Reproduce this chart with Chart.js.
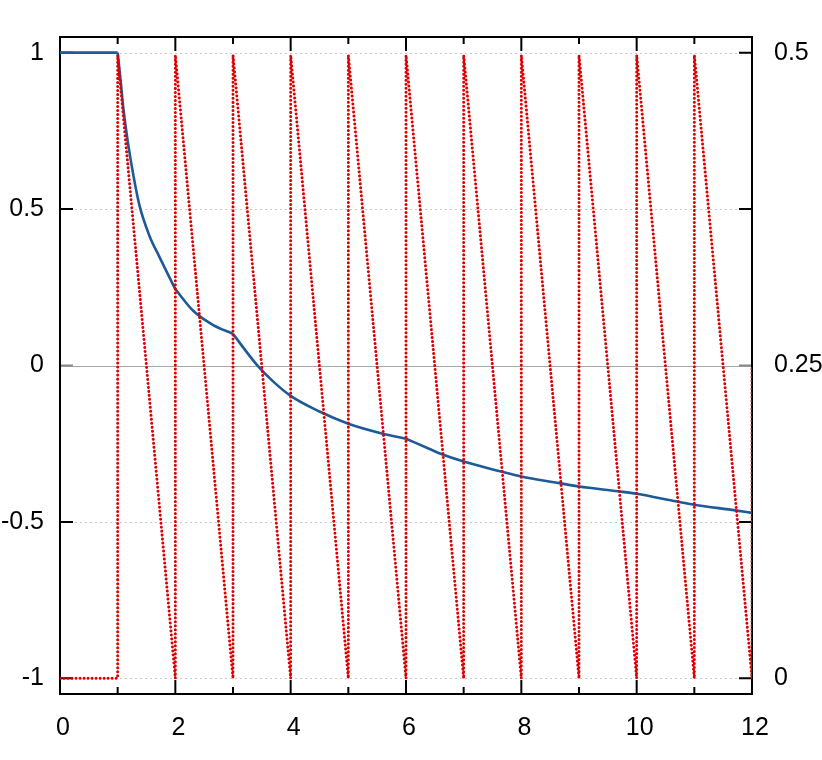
<!DOCTYPE html>
<html>
<head>
<meta charset="utf-8">
<script src="https://cdn.jsdelivr.net/npm/chart.js@4"></script>
<style>
  html, body { margin: 0; padding: 0; background: #fff; }
  canvas { display: block; }
</style>
</head>
<body>
<canvas id="chart" width="822" height="760"></canvas>
<script>
// ========================================
// 데이터
// ========================================
const blueX = [0, 1, 1.02, 1.045, 1.1, 1.18, 1.28, 1.38, 1.55, 1.73, 1.9, 2, 2.31, 2.65, 3,
               3.41, 3.69, 4, 4.5, 5, 5.58, 6, 6.41, 6.6, 7, 7.63, 8, 8.66, 9, 9.67, 10,
               10.7, 11, 11.71, 12];
const blueY = [1, 1, 0.965, 0.922, 0.82, 0.71, 0.6, 0.51, 0.415, 0.345, 0.281, 0.244, 0.175, 0.13, 0.101,
               0.003, -0.05, -0.097, -0.147, -0.186, -0.217, -0.234, -0.267, -0.282, -0.307, -0.338, -0.355, -0.376, -0.387, -0.402, -0.41,
               -0.435, -0.445, -0.463, -0.471];
// 곡선이 꺾이는 지점
const blueBreaks = [0, 1, 2, 3, 6, 12];

// 톱니파 (오른쪽 축)
const redX = [0, 1, 1, 2, 2, 3, 3, 4, 4, 5, 5, 6, 6, 7, 7, 8, 8, 9, 9, 10, 10, 11, 11, 12, 12];
const redY = [0, 0, 0.498, 0, 0.498, 0, 0.498, 0, 0.498, 0, 0.498, 0, 0.498, 0, 0.498, 0, 0.498,
              0, 0.498, 0, 0.498, 0, 0.498, 0, 0.25];

const xTicks = [0, 2, 4, 6, 8, 10, 12];
const yTicks = [-1, -0.5, 0, 0.5, 1];
const y2Ticks = [0, 0.25, 0.5];
const minorX = [0, 1, 2, 3, 4, 5, 6, 7, 8, 9, 10, 11, 12];

const toPoints = (xs, ys) => xs.map((x, i) => ({ x: x, y: ys[i] }));

const tickFont = { family: "'Liberation Sans', Arial, sans-serif", size: 25 };

// 꺾이는 지점마다 나눠서 각각 부드럽게 그림
const bluePoints = toPoints(blueX, blueY);
const blueSegments = blueBreaks.slice(1).map((hi, i) => {
  const lo = blueBreaks[i];
  return {
    data: bluePoints.filter(p => p.x >= lo && p.x <= hi),
    yAxisID: 'y',
    borderColor: '#1f5a96',
    borderWidth: 2.6,
    pointRadius: 0,
    cubicInterpolationMode: 'monotone',
    fill: false
  };
});

// ========================================
// 테두리, 격자, 눈금
// ========================================
const framePlugin = {
  id: 'frame',
  beforeDatasetsDraw(chart) {
    const { ctx, chartArea: a, scales } = chart;
    ctx.save();

    // 가로 격자
    ctx.lineWidth = 1;
    yTicks.forEach(v => {
      const py = Math.round(scales.y.getPixelForValue(v)) + 0.5;
      ctx.strokeStyle = v === 0 ? '#a8a8a8' : '#c8c8c8';
      ctx.setLineDash(v === 0 ? [] : [2, 3]);
      ctx.beginPath();
      ctx.moveTo(a.left, py);
      ctx.lineTo(a.right, py);
      ctx.stroke();
    });
    ctx.setLineDash([]);

    // 눈금
    ctx.lineWidth = 2;
    yTicks.forEach(v => {
      const py = scales.y.getPixelForValue(v);
      ctx.strokeStyle = v === 0 ? '#888' : '#000';
      ctx.beginPath();
      ctx.moveTo(a.left, py);
      ctx.lineTo(a.left + 13, py);
      ctx.moveTo(a.right - 13, py);
      ctx.lineTo(a.right, py);
      ctx.stroke();
    });
    ctx.strokeStyle = '#000';
    minorX.forEach(v => {
      const px = scales.x.getPixelForValue(v);
      const len = v % 2 === 0 ? 14 : 7;
      ctx.beginPath();
      ctx.moveTo(px, a.bottom);
      ctx.lineTo(px, a.bottom - len);
      ctx.moveTo(px, a.top);
      ctx.lineTo(px, a.top + len);
      ctx.stroke();
    });

    // 테두리
    ctx.strokeRect(a.left, a.top, a.right - a.left, a.bottom - a.top);
    ctx.restore();
  }
};

// ========================================
// 차트
// ========================================
new Chart(document.getElementById('chart'), {
  type: 'line',
  data: {
    datasets: [
      {
        data: toPoints(redX, redY),
        yAxisID: 'y2',
        borderColor: '#dd0000',
        borderWidth: 3,
        borderDash: [0.01, 4],
        borderCapStyle: 'round',
        pointRadius: 0,
        tension: 0,
        fill: false
      },
      ...blueSegments
    ]
  },
  options: {
    responsive: false,
    animation: false,
    layout: { padding: { top: 34, left: 0, right: 0, bottom: 0 } },
    plugins: {
      legend: { display: false },
      tooltip: { enabled: false }
    },
    scales: {
      x: {
        type: 'linear',
        min: 0,
        max: 12,
        afterBuildTicks: s => { s.ticks = xTicks.map(v => ({ value: v })); },
        afterFit: s => { s.height = 66; },
        grid: { display: false, drawTicks: false },
        border: { display: false },
        ticks: { padding: 19, labelOffset: 3, color: '#000', font: tickFont, maxRotation: 0, autoSkip: false, callback: v => String(v) }
      },
      y: {
        position: 'left',
        min: -1.05,
        max: 1.05,
        afterBuildTicks: s => { s.ticks = yTicks.map(v => ({ value: v })); },
        afterFit: s => { s.width = 60; },
        grid: { display: false, drawTicks: false },
        border: { display: false },
        ticks: { padding: 16, color: '#000', font: tickFont, autoSkip: false, callback: v => String(v) }
      },
      y2: {
        position: 'right',
        min: -0.0125,
        max: 0.5125,
        afterBuildTicks: s => { s.ticks = y2Ticks.map(v => ({ value: v })); },
        afterFit: s => { s.width = 70; },
        grid: { display: false, drawTicks: false },
        border: { display: false },
        ticks: { padding: 22, color: '#000', font: tickFont, autoSkip: false, callback: v => String(v) }
      }
    }
  },
  plugins: [framePlugin]
});
</script>
</body>
</html>
